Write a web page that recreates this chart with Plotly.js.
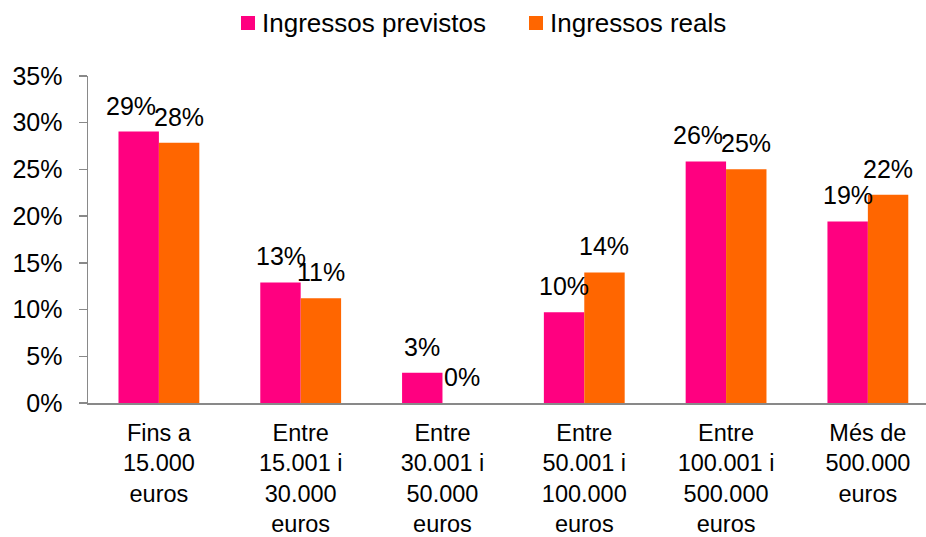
<!DOCTYPE html>
<html>
<head>
<meta charset="utf-8">
<script src="https://cdn.plot.ly/plotly-3.0.1.min.js"></script>
<style>html,body{margin:0;padding:0;background:#fff;}#chart{width:926px;height:537px;}</style>
</head>
<body>
<div id="chart"></div>
<script>
const categories = [
  "Fins a<br>15.000<br>euros",
  "Entre<br>15.001 i<br>30.000<br>euros",
  "Entre<br>30.001 i<br>50.000<br>euros",
  "Entre<br>50.001 i<br>100.000<br>euros",
  "Entre<br>100.001 i<br>500.000<br>euros",
  "Més de<br>500.000<br>euros"
];
const seriesNames = ["Ingressos previstos", "Ingressos reals"];
const previstos = [29.06, 12.9, 3.23, 9.7, 25.85, 19.43];
const reals = [27.85, 11.2, 0, 13.97, 25.03, 22.28];
const yTickVals = [0, 5, 10, 15, 20, 25, 30, 35];

const FONT = "Liberation Sans, Arial, sans-serif";
const colors = ["#FF0080", "#FF6600"];
const series = [previstos, reals];

// plot area in pixels (for converting legend pixel positions to paper coords)
const W = 926, H = 537, ML = 88, MR = 0, MT = 76, MB = 134;
const PW = W - ML - MR, PH = H - MT - MB;
const px = x => (x - ML) / PW;
const py = y => (H - MB - y) / PH;

const traces = series.map((vals, k) => ({
  type: "bar",
  name: seriesNames[k],
  x: categories,
  y: vals,
  marker: {color: colors[k]},
  hoverinfo: "none",
  showlegend: false
}));

const annotations = [];
series.forEach((vals, k) => {
  vals.forEach((v, i) => {
    let xs = k === 0 ? -20 : 20;
    // pink label moved slightly left when the two labels would collide
    if (k === 0 && Math.abs(series[0][i] - series[1][i]) < 1.5) xs -= 8;
    annotations.push({
      x: categories[i], y: v, xref: "x", yref: "y",
      text: Math.round(v) + "%",
      showarrow: false, yanchor: "bottom", xanchor: "center",
      xshift: xs, yshift: 10,
      font: {family: FONT, size: 25, color: "#000"}
    });
  });
});

// custom legend (square + text)
const legendSquares = [241, 529];
const legendTexts = [260, 548];
const shapes = [];
seriesNames.forEach((name, k) => {
  shapes.push({
    type: "rect", xref: "paper", yref: "paper",
    x0: px(legendSquares[k]), x1: px(legendSquares[k] + 14),
    y0: py(30), y1: py(16),
    fillcolor: colors[k], line: {width: 0}
  });
  annotations.push({
    xref: "paper", yref: "paper",
    x: px(legendTexts[k]), y: py(23),
    xanchor: "left", yanchor: "middle",
    text: name, showarrow: false,
    font: {family: FONT, size: 26, color: "#000"}
  });
});

const layout = {
  width: W, height: H,
  margin: {l: ML, r: MR, t: MT, b: MB, pad: 0},
  paper_bgcolor: "#fff", plot_bgcolor: "#fff",
  font: {family: FONT, size: 25, color: "#000"},
  barmode: "group",
  bargap: 0.43, bargroupgap: 0,
  showlegend: false,
  xaxis: {
    type: "category",
    range: [-0.5, 5.41],
    showline: true, linecolor: "#898989", linewidth: 1.5,
    ticks: "", showgrid: false, zeroline: false,
    ticklabelstandoff: 8,
    tickfont: {family: FONT, size: 23.5, color: "#000"},
    fixedrange: true
  },
  yaxis: {
    range: [0, 35],
    tickvals: yTickVals,
    ticktext: yTickVals.map(v => v + "%"),
    showline: true, linecolor: "#898989", linewidth: 1.5,
    ticks: "outside", ticklen: 8, tickcolor: "#898989", tickwidth: 1.5,
    ticklabelstandoff: 11,
    showgrid: false, zeroline: false,
    tickfont: {family: FONT, size: 25, color: "#000"},
    fixedrange: true
  },
  shapes: shapes,
  annotations: annotations
};

Plotly.newPlot("chart", traces, layout, {displayModeBar: false, staticPlot: true});
</script>
</body>
</html>
